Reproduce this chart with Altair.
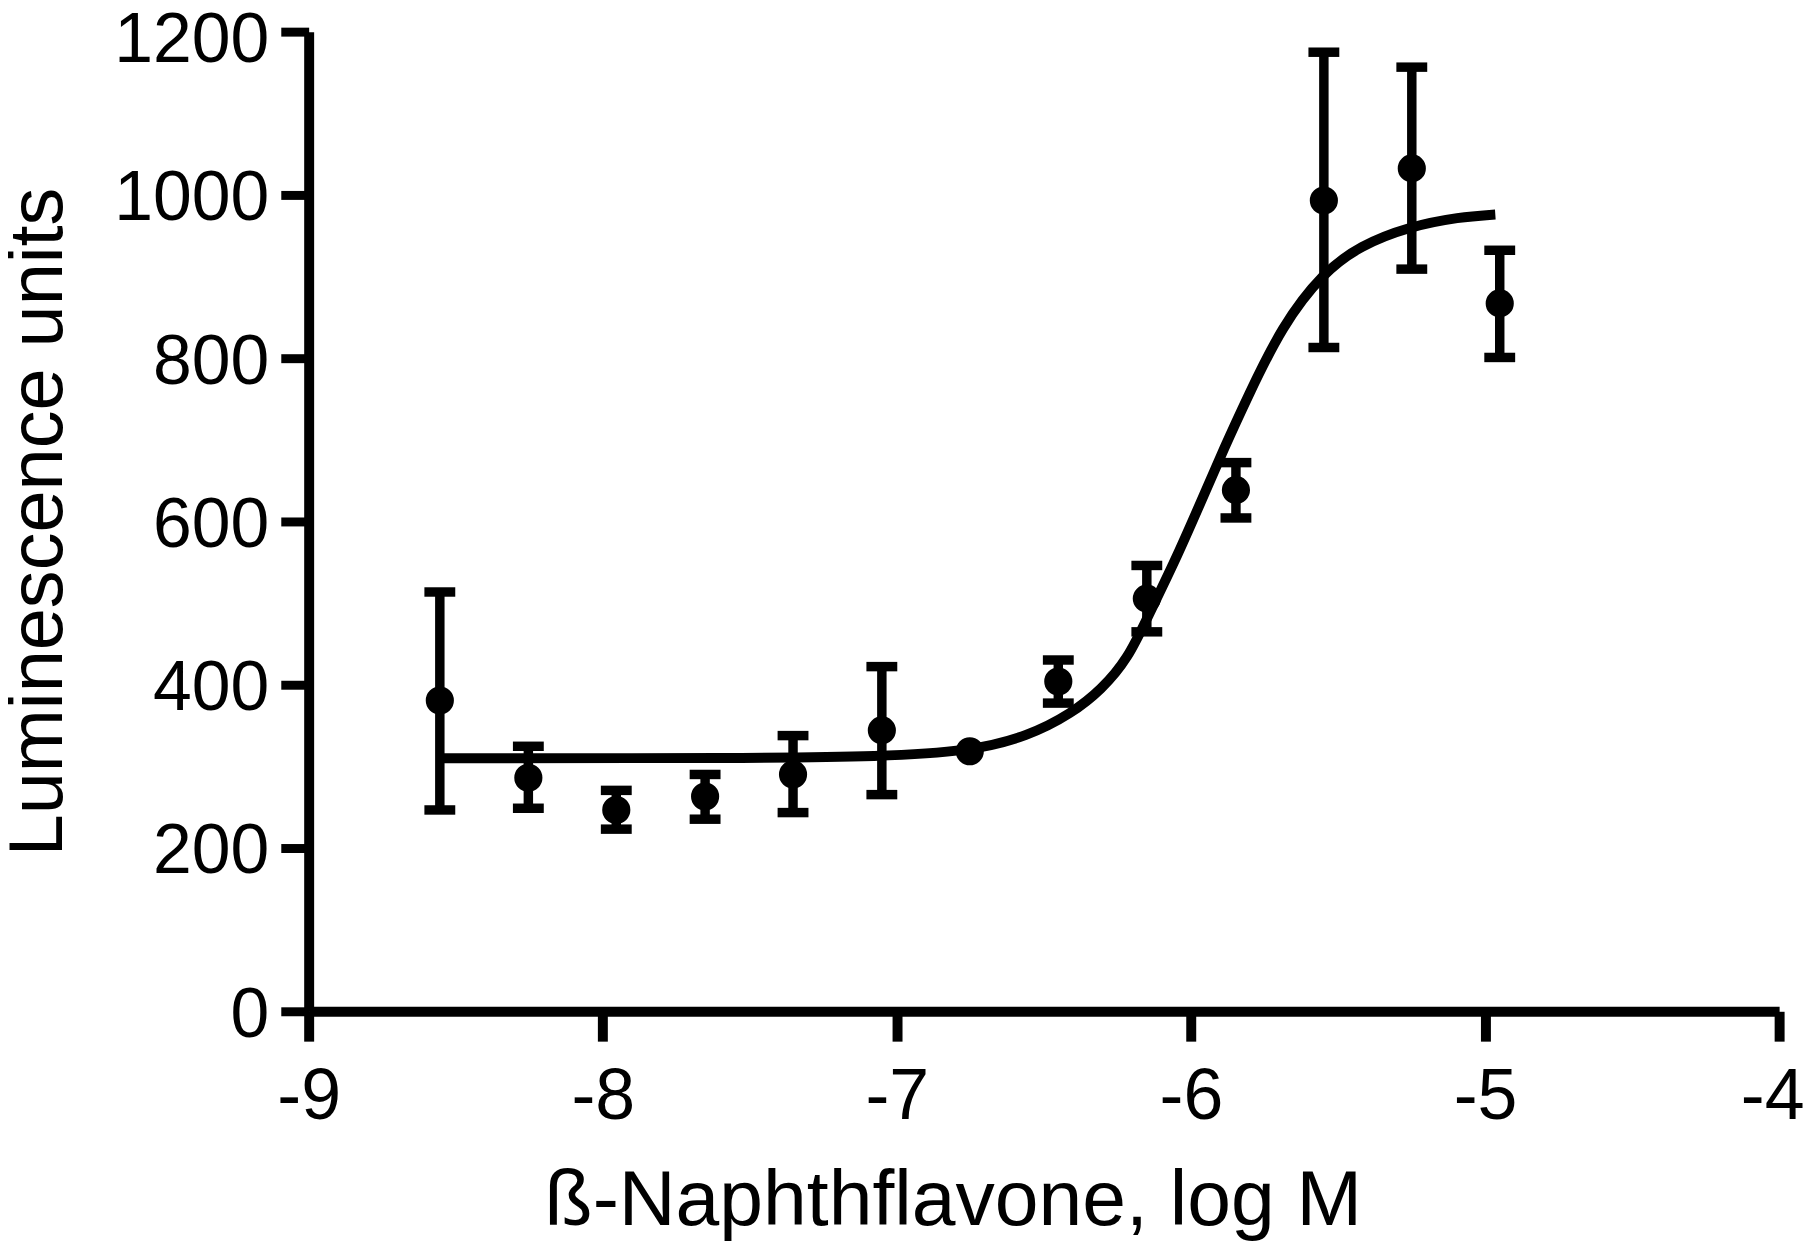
import altair as alt
import pandas as pd

# ---- data ----
dose_log = [-8.554, -8.253, -7.954, -7.652, -7.353, -7.051, -6.752,
            -6.451, -6.150, -5.847, -5.548, -5.249, -4.950]
mean_lum = [380.7, 286.1, 246.6, 263.0, 290.1, 344.1, 318.5,
            403.9, 505.5, 638.4, 993.2, 1032.5, 867.1]
upper_lum = [513.6, 324.6, 270.6, 290.1, 337.7, 422.2, None,
             430.3, 546.1, 672.1, 1174.8, 1156.5, 932.2]
lower_lum = [246.6, 248.7, 223.1, 235.3, 243.4, 265.4, None,
             377.5, 464.8, 604.3, 813.1, 909.1, 800.9]

curve_x = [-8.554, -7.511, -7.051, -6.752, -6.552, -6.405, -6.304, -6.214,
           -6.146, -6.056, -5.966, -5.887, -5.808, -5.69, -5.55, -5.424,
           -5.26, -5.086, -4.965]
curve_y = [310, 310, 312, 318.5, 337, 365, 394, 432,
           484, 550, 624, 690, 752, 840, 905, 938,
           961, 973, 976]

x_ticks = [-9, -8, -7, -6, -5, -4]
y_ticks = [0, 200, 400, 600, 800, 1000, 1200]

x_title = "ß-Naphthflavone, log M"
y_title = "Luminescence units"

pts = pd.DataFrame({"x": dose_log, "y": mean_lum})
err = pd.DataFrame({"x": dose_log, "lo": lower_lum, "hi": upper_lum}).dropna()
curve = pd.DataFrame({"x": curve_x, "y": curve_y})

FONT = "Liberation Sans"

xscale = alt.Scale(domain=[-9, -4], nice=False, zero=False)
yscale = alt.Scale(domain=[0, 1200], nice=False)

xaxis = alt.Axis(
    values=x_ticks, title=x_title, grid=False,
    domainColor="black", domainWidth=10, tickColor="black", tickWidth=10,
    tickSize=30, labelFont=FONT, labelFontSize=72, labelColor="black",
    labelBaseline="alphabetic", labelPadding=78, labelExpr="datum.value + ''",
    labelOffset={"condition": {"test": "datum.value === -4", "value": -7}, "value": 0},
    labelFlush=False, labelOverlap=False,
    titleFont=FONT, titleFontSize=79, titleFontWeight="normal", titleColor="black",
    titleX=647, titleY=214, titleBaseline="alphabetic", titleAlign="center",
)
yaxis = alt.Axis(
    values=y_ticks, title=y_title, grid=False,
    domainColor="black", domainWidth=10, tickColor="black", tickWidth=9,
    tickSize=28, labelFont=FONT, labelFontSize=70, labelColor="black",
    labelPadding=12,
    labelOffset={"condition": {"test": "datum.value === 1200", "value": 9}, "value": 4},
    labelFlush=False, labelOverlap=False,
    labelExpr="datum.value + ''",
    titleFont=FONT, titleFontSize=76, titleFontWeight="normal", titleColor="black",
    titleX=-248, titleY=492, titleBaseline="alphabetic", titleAlign="center",
    titleAngle=270,
)

base_x = alt.X("x:Q", scale=xscale, axis=xaxis)
base_y = alt.Y("y:Q", scale=yscale, axis=yaxis)

line = alt.Chart(curve).mark_line(color="black", strokeWidth=10, interpolate="basis").encode(
    x=base_x, y=base_y
)

bars = alt.Chart(err).mark_rule(color="black", strokeWidth=9.5).encode(
    x=alt.X("x:Q", scale=xscale),
    y=alt.Y("lo:Q", scale=yscale),
    y2="hi:Q",
)
cap_hi = alt.Chart(err).mark_tick(color="black", orient="horizontal", size=31, thickness=9.5, opacity=1).encode(
    x=alt.X("x:Q", scale=xscale), y=alt.Y("hi:Q", scale=yscale)
)
cap_lo = alt.Chart(err).mark_tick(color="black", orient="horizontal", size=31, thickness=9.5, opacity=1).encode(
    x=alt.X("x:Q", scale=xscale), y=alt.Y("lo:Q", scale=yscale)
)
points = alt.Chart(pts).mark_point(filled=True, color="black", size=800, opacity=1, shape="circle").encode(
    x=alt.X("x:Q", scale=xscale), y=alt.Y("y:Q", scale=yscale)
)

chart = alt.layer(line, bars, cap_hi, cap_lo, points).properties(
    width=1477, height=984,
    background="white",
    autosize=alt.AutoSizeParams(type="none"),
    padding={"left": 302, "top": 21, "right": 27, "bottom": 230},
).configure_view(stroke=None)

chart.save("out.html", embed_options={"renderer": "svg", "actions": False})
